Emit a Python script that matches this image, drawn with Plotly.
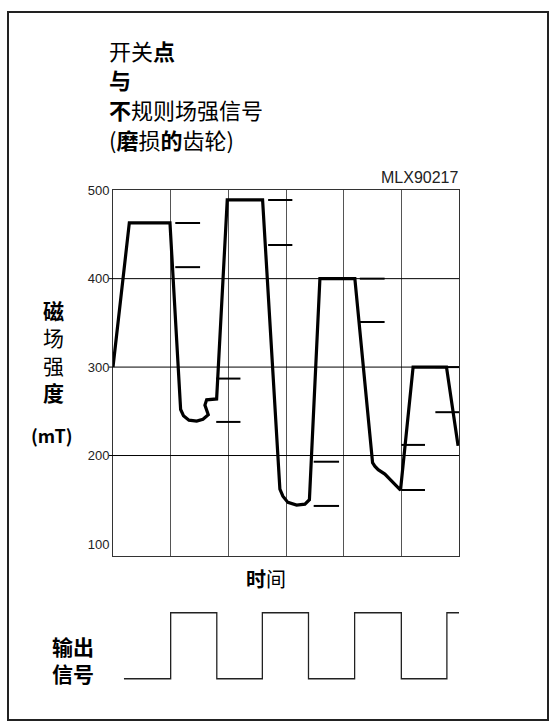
import plotly.graph_objects as go

# Canvas size in pixels
W, H = 557, 723

# Magnetic field trace (time in grid periods, field in mT)
field_t = [0.0, 0.283, 0.988, 1.173, 1.222, 1.317, 1.451, 1.560, 1.652, 1.594, 1.624, 1.797,
           1.981, 2.594, 2.894, 2.946, 3.033, 3.184, 3.328, 3.406, 3.588, 4.194, 4.501,
           4.540, 4.598, 4.714, 4.986, 5.204, 5.783, 5.984]
field_mT = [300, 463, 463, 252, 245, 240, 239, 241, 246, 257, 263, 264,
            489, 489, 162, 154, 147, 144, 145, 150, 400, 400, 192,
            188, 184, 179, 161, 300, 300, 211]

# Switching-point markers: operate (upper) and release (lower) levels
switch_x0 = [1.08, 1.79, 2.69, 3.48, 4.28, 5.00, 5.59]
switch_x1 = [1.51, 2.21, 3.11, 3.92, 4.71, 5.41, 6.01]
switch_hi = [463, 287, 489, 193, 400, 212, 300]
switch_lo = [413, 238, 438, 143, 351, 161, 249]

# Digital output signal
out_t = [0.19, 1.0, 1.8, 2.59, 3.39, 4.19, 5.0, 5.79, 6.0]
out_level = [0, 1, 0, 1, 0, 1, 0, 1, 1]

# Axis settings
y_ticks = [100, 200, 300, 400, 500]
grid_levels = [200, 300, 400]
x_range = [0, 6]
y_range = [86.8, 500]

# Heading lines
heading = ["开关<b>点</b>", "<b>与</b>", "<b>不</b>规则场强信号", "(<b>磨</b>损<b>的</b>齿轮)"]


def px(x):
    return x / W


def py(y):
    return 1 - y / H


CJK = "Noto Sans CJK SC"
LAT = "Liberation Sans"

# Build the marker segments with gaps between them
mk_x, mk_y = [], []
for x0, x1, hi, lo in zip(switch_x0, switch_x1, switch_hi, switch_lo):
    mk_x += [x0, x1, None, x0, x1, None]
    mk_y += [hi, hi, None, lo, lo, None]

fig = go.Figure()
fig.add_trace(go.Scatter(x=field_t, y=field_mT, mode="lines",
                         line=dict(color="black", width=3.2),
                         xaxis="x", yaxis="y", hoverinfo="skip"))
fig.add_trace(go.Scatter(x=mk_x, y=mk_y, mode="lines",
                         line=dict(color="black", width=2),
                         xaxis="x", yaxis="y", hoverinfo="skip"))
fig.add_trace(go.Scatter(x=out_t, y=out_level, mode="lines",
                         line=dict(color="#222", width=1.3, shape="hv"),
                         xaxis="x2", yaxis="y2", hoverinfo="skip"))

shapes = []
# Horizontal reference lines at 200/300/400 mT
for lv in grid_levels:
    shapes.append(dict(type="line", xref="paper", yref="y",
                       x0=px(109), x1=px(459), y0=lv, y1=lv,
                       line=dict(color="black", width=1)))
# Outer frame
shapes.append(dict(type="rect", xref="paper", yref="paper",
                   x0=px(8), x1=px(548), y0=py(720), y1=py(5),
                   line=dict(color="#222", width=2)))

annotations = []


def label(text, x, y, size, xanchor="left", family=CJK, color="black"):
    annotations.append(dict(text=text, xref="paper", yref="paper",
                            x=px(x), y=py(y), xanchor=xanchor, yanchor="middle",
                            showarrow=False, align="left" if xanchor == "left" else "center",
                            borderpad=0,
                            font=dict(family=family, size=size, color=color)))


# Heading, one line per annotation, 30 px apart
for i, line in enumerate(heading):
    label(line, 108, 43 + 30 * i, 22)

label("MLX90217", 459, 172, 16, xanchor="right", family=LAT, color="#222")

# Vertical axis title
label("<b>磁</b><br>场<br>强<br><b>度</b>", 54, 347.5, 21, xanchor="center")
label("<b>(mT)</b>", 52, 432, 18, xanchor="center")

# Horizontal axis title
label("<b>时</b>间", 266, 577, 20, xanchor="center")

# Output signal title
label("<b>输出</b><br><b>信号</b>", 51, 658.5, 21)

fig.update_layout(
    width=W, height=H,
    margin=dict(l=0, r=0, t=0, b=0),
    paper_bgcolor="white", plot_bgcolor="white",
    showlegend=False,
    shapes=shapes,
    annotations=annotations,
    xaxis=dict(domain=[px(113), px(459)], range=x_range, dtick=1,
               showgrid=True, gridcolor="#555", gridwidth=1,
               showticklabels=False, ticks="", zeroline=False,
               showline=True, linecolor="#333", linewidth=1, mirror=True),
    yaxis=dict(domain=[py(554), py(185)], range=y_range,
               tickvals=y_ticks, showgrid=False, zeroline=False,
               ticks="", showline=True, linecolor="#333", linewidth=1, mirror=True,
               tickfont=dict(family=LAT, size=13, color="#222")),
    xaxis2=dict(domain=[px(113), px(459)], range=x_range, anchor="y2",
                visible=False),
    yaxis2=dict(domain=[py(685), py(605)], range=[-0.1, 1.1], anchor="x2",
                visible=False),
)

fig.write_html("out.html")
